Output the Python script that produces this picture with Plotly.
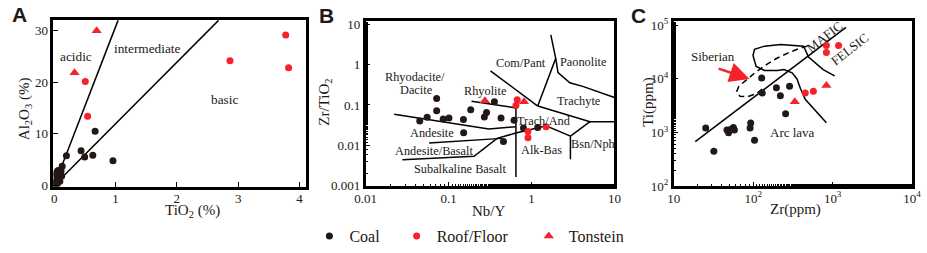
import numpy as np
import plotly.graph_objects as go

# ---------------- Panel A data: TiO2 (%) vs Al2O3 (%) ----------------
A_coal_tio2 = [0.665, 0.436, 0.495, 0.628, 0.957, 0.197, 0.128,
               0.02, 0.03, 0.05, 0.06, 0.08, 0.10, 0.04, 0.12, 0.07, 0.09, 0.03, 0.11, 0.01, 0.06, 0.05]
A_coal_al2o3 = [10.47, 6.70, 5.48, 5.84, 4.75, 5.72, 3.71,
                0.5, 1.0, 1.5, 2.0, 2.5, 2.2, 2.6, 1.8, 1.2, 0.8, 2.0, 2.8, 0.2, 2.9, 0.3]
A_roof_tio2 = [3.777, 2.867, 3.824, 0.505, 0.543]
A_roof_al2o3 = [29.15, 24.16, 22.82, 20.15, 13.39]
A_ton_tio2 = [0.691, 0.330]
A_ton_al2o3 = [30.0, 21.85]
A_line1_x = [0, 1.04]
A_line1_y = [0, 32.0]
A_line2_x = [0, 2.68]
A_line2_y = [0, 32.0]

# ---------------- Panel B data: Nb/Y vs Zr/TiO2 ----------------
B_coal_nby = [0.0449, 0.0551, 0.0718, 0.0718, 0.0861, 0.101, 0.151, 0.152, 0.185,
              0.270, 0.287, 0.357, 0.429, 0.616, 0.80, 1.19, 0.459]
B_coal_zrti = [0.0398, 0.0494, 0.145, 0.0720, 0.0451, 0.0475, 0.0434, 0.0204, 0.076,
               0.0502, 0.0647, 0.121, 0.0475, 0.042, 0.0267, 0.0277, 0.0124]
B_roof_nby = [0.673, 0.649, 0.906, 0.906, 1.50]
B_roof_zrti = [0.135, 0.0973, 0.022, 0.0153, 0.0288]
B_ton_nby = [0.274, 0.813]
B_ton_zrti = [0.127, 0.121]

B_lines = {
    "andesite_top": ([0.0221, 0.305, 0.649], [0.059, 0.0253, 0.0288]),
    "rhyolite_bottom": ([0.189, 0.649], [0.123, 0.0846]),
    "vertical": ([0.649, 0.649], [0.0893, 0.00163]),
    "andbas_top": ([0.0582, 0.44], [0.0113, 0.0148]),
    "subalk": ([0.0277, 0.203, 0.384, 0.649, 1.04, 1.50, 2.95], [0.00438, 0.0053, 0.0148, 0.0201, 0.0253, 0.0304, 0.0168]),
    "compant": ([0.32, 1.19], [0.703, 0.094]),
    "spike": ([1.19, 1.96, 1.71], [0.094, 1.44, 5.53]),
    "paonolite": ([1.96, 2.09, 2.90, 4.24, 10.0], [1.44, 0.641, 0.355, 0.286, 0.153]),
    "trachyte": ([1.19, 5.08, 10.0], [0.094, 0.0384, 0.0384]),
    "bsnnph": ([5.08, 2.95, 2.95], [0.0384, 0.0168, 0.00445]),
}

# ---------------- Panel C data: Zr (ppm) vs Ti (ppm) ----------------
C_coal_zr = [25.3, 32, 46.8, 49, 52.8, 56.4, 58, 93.1, 91.4, 104, 128, 130, 196, 220, 256, 287]
C_coal_ti = [1208, 450, 1114, 988, 1145, 1242, 1114, 1500, 1208, 716, 10300, 5430, 6790, 4810, 2240, 7280]
C_roof_zr = [834, 1186, 834, 452, 572]
C_roof_ti = [41500, 41500, 30900, 5430, 5890]
C_ton_zr = [334, 834]
C_ton_ti = [3720, 7480]
C_main_line_zr = [18.7, 1469]
C_main_line_ti = [679, 90300]
C_field_zr = [834, 628, 452, 392, 356, 309, 244, 202, 139, 109, 99.5, 104, 139, 222, 324, 431, 497, 760, 1059]
C_field_ti = [1518, 2431, 4150, 6640, 9930, 12940, 14830, 14250, 14250, 16930, 27100, 35300,
              40500, 43200, 42200, 40500, 25300, 14830, 11330]
C_siberian_zr = [482, 374, 268, 193, 145, 109, 82.4, 66.2, 62.1, 68.2, 84.9, 109, 139]
C_siberian_ti = [40500, 36300, 29700, 23600, 18100, 13460, 9530, 7280, 5790, 4730, 4620, 5280, 6900]

BLACK = "#231815"
RED = "#f5222a"
SERIF = "Liberation Serif"

fig = go.Figure()

def pts(x, y, xa, ya, color, symbol, size, name, show):
    fig.add_trace(go.Scatter(x=x, y=y, xaxis=xa, yaxis=ya, mode="markers", name=name,
                             legendgroup=name, showlegend=show,
                             marker=dict(color=color, symbol=symbol, size=size, line=dict(width=0))))

def line(x, y, xa, ya, dash="solid"):
    fig.add_trace(go.Scatter(x=x, y=y, xaxis=xa, yaxis=ya, mode="lines", showlegend=False,
                             hoverinfo="skip", line=dict(color="black", width=1.5, dash=dash)))

NB = "\u00a0"
# Panel A
line(A_line1_x, A_line1_y, "x", "y")
line(A_line2_x, A_line2_y, "x", "y")
pts(A_coal_tio2, A_coal_al2o3, "x", "y", BLACK, "circle", 7, "Coal" + NB * 3, True)
pts(A_roof_tio2, A_roof_al2o3, "x", "y", RED, "circle", 7, "Roof/Floor" + NB * 4, True)
pts(A_ton_tio2, A_ton_al2o3, "x", "y", RED, "triangle-up", 9, "Tonstein", True)

# Panel B
for k, (lx, ly) in B_lines.items():
    line(lx, ly, "x2", "y2")
pts(B_coal_nby, B_coal_zrti, "x2", "y2", BLACK, "circle", 7, "Coal", False)
pts(B_roof_nby, B_roof_zrti, "x2", "y2", RED, "circle", 7, "Roof/Floor", False)
pts(B_ton_nby, B_ton_zrti, "x2", "y2", RED, "triangle-up", 9, "Tonstein", False)

# Panel C
line(C_main_line_zr, C_main_line_ti, "x3", "y3")
line(C_field_zr, C_field_ti, "x3", "y3")
line(C_siberian_zr, C_siberian_ti, "x3", "y3", dash="6px,4px")
pts(C_coal_zr, C_coal_ti, "x3", "y3", BLACK, "circle", 7, "Coal", False)
pts(C_roof_zr, C_roof_ti, "x3", "y3", RED, "circle", 7, "Roof/Floor", False)
pts(C_ton_zr, C_ton_ti, "x3", "y3", RED, "triangle-up", 9, "Tonstein", False)

W, H = 927, 253
def dom(a, b, n):
    return [a / n, b / n]

tickfont = dict(family=SERIF, size=13, color=BLACK)
common = dict(showline=True, linewidth=2.5, linecolor="black", mirror=True, showgrid=False,
              zeroline=False, ticks="inside", ticklen=5, tickcolor="black", tickfont=tickfont)
xcommon = dict(ticklabelstandoff=-2, **common)

minor = dict(ticks="inside", ticklen=3, tickcolor="black", showgrid=False)

fig.update_layout(
    width=W, height=H, margin=dict(l=0, r=0, t=0, b=0),
    paper_bgcolor="white", plot_bgcolor="white",
    font=dict(family=SERIF, size=13, color=BLACK),
    xaxis=dict(domain=dom(43.3, 301, W), range=[-0.016, 4.1], tickvals=[0, 1, 2, 3, 4], anchor="y", **xcommon),
    yaxis=dict(domain=[1 - 193.3 / H, 1 - 16 / H], range=[-0.29, 32.06], tickvals=[0, 10, 20, 30], anchor="x", **common),
    xaxis2=dict(domain=dom(362.5, 616.7, W), type="log", range=[-2, 1], anchor="y2",
                tickvals=[0.01, 0.1, 1, 10], ticktext=["0.01", "0.1", "1", "10"], minor=minor, **xcommon),
    yaxis2=dict(domain=[1 - 192.7 / H, 1 - 17.3 / H], type="log", range=[-3.02, 1.08], anchor="x2",
                tickvals=[0.001, 0.01, 0.1, 1, 10], ticktext=["0.001", "0.01", "0.1", "1", "10"], minor=minor, **common),
    xaxis3=dict(domain=dom(677.3, 921, W), type="log", range=[1, 4], anchor="y3",
                tickvals=[10, 100, 1000, 10000], ticktext=["10", "10<sup>2</sup>", "10<sup>3</sup>", "10<sup>4</sup>"],
                minor=minor, **xcommon),
    yaxis3=dict(domain=[1 - 192.7 / H, 1 - 17.3 / H], type="log", range=[2, 5.07], anchor="x3",
                tickvals=[100, 1000, 10000, 100000],
                ticktext=["10<sup>2</sup>", "10<sup>3</sup>", "10<sup>4</sup>", "10<sup>5</sup>"], minor=minor, **common),
    legend=dict(orientation="h", x=305 / W, xanchor="left", y=1 - 246 / H, yanchor="middle",
                font=dict(family=SERIF, size=16, color=BLACK), bgcolor="rgba(0,0,0,0)",
                itemwidth=30, tracegroupgap=0),
)

ann = []
def txt(x, y, s, xref, yref, size=13, angle=0, family=SERIF, bold=False):
    ann.append(dict(x=x, y=y, xref=xref, yref=yref, text=("<b>%s</b>" % s) if bold else s, showarrow=False,
                    textangle=angle, font=dict(family=family, size=size, color=BLACK),
                    xanchor="center", yanchor="middle"))

# Panel letters
txt(9 / W, 1 - 10 / H, "A", "paper", "paper", size=21, family="Liberation Sans", bold=True)
txt(322 / W, 1 - 11 / H, "B", "paper", "paper", size=21, family="Liberation Sans", bold=True)
txt(641 / W, 1 - 11 / H, "C", "paper", "paper", size=21, family="Liberation Sans", bold=True)

# Axis titles
txt(185 / W, 1 - 219 / H, "TiO<sub>2</sub> (%)", "paper", "paper", size=15)
txt(15 / W, 1 - 110 / H, "Al<sub>2</sub>O<sub>3</sub> (%)", "paper", "paper", size=15, angle=-90)
txt(488.3 / W, 1 - 219 / H, "Nb/Y", "paper", "paper", size=15)
txt(320.7 / W, 1 - 103 / H, "Zr/TiO<sub>2</sub>", "paper", "paper", size=15, angle=-90)
txt(801.7 / W, 1 - 217.5 / H, "Zr(ppm)", "paper", "paper", size=15)
txt(651.7 / W, 1 - 103.3 / H, "Ti(ppm)", "paper", "paper", size=15, angle=-90)

# Panel A field labels
txt(0.357, 24.9, "acidic", "x", "y", size=13.3)
txt(1.516, 26.5, "intermediate", "x", "y", size=13.3)
txt(2.777, 16.7, "basic", "x", "y", size=13.3)

# Panel B field labels (log10 coordinates)
bs = 12.3
txt(-1.400, -0.305, "Rhyodacite/", "x2", "y2", size=bs)
txt(-1.392, -0.625, "Dacite", "x2", "y2", size=bs)
txt(-0.554, -0.661, "Rhyolite", "x2", "y2", size=bs)
txt(-0.125, 0.040, "Com/Pant", "x2", "y2", size=bs)
txt(0.627, 0.080, "Paonolite", "x2", "y2", size=bs)
txt(0.568, -0.895, "Trachyte", "x2", "y2", size=bs)
txt(0.146, -1.386, "Trach/And", "x2", "y2", size=bs)
txt(-1.195, -1.690, "Andesite", "x2", "y2", size=bs)
txt(-1.171, -2.142, "Andesite/Basalt", "x2", "y2", size=bs)
txt(-0.857, -2.586, "Subalkaline Basalt", "x2", "y2", size=bs)
txt(0.116, -2.118, "Alk-Bas", "x2", "y2", size=bs)
txt(0.745, -1.960, "Bsn/Nph", "x2", "y2", size=bs)

# Panel C labels
txt(1.493, 4.415, "Siberian", "x3", "y3", size=13)
txt(2.901, 4.782, "MAFIC", "x3", "y3", size=13, angle=-38)
txt(3.209, 4.548, "FELSIC", "x3", "y3", size=13, angle=-38)
txt(2.490, 3.007, "Arc lava", "x3", "y3", size=13)

# Red arrow pointing to the Siberian field
ann.append(dict(x=np.log10(90), y=np.log10(9930), ax=np.log10(35.2), ay=np.log10(15800),
                xref="x3", yref="y3", axref="x3", ayref="y3", text="", showarrow=True,
                arrowhead=2, arrowsize=1.6, arrowwidth=2.5, arrowcolor=RED))

fig.update_layout(annotations=ann)
fig.write_html("out.html", config={"displayModeBar": False},
               post_script="document.body.style.margin='0';document.body.style.overflow='hidden';")
